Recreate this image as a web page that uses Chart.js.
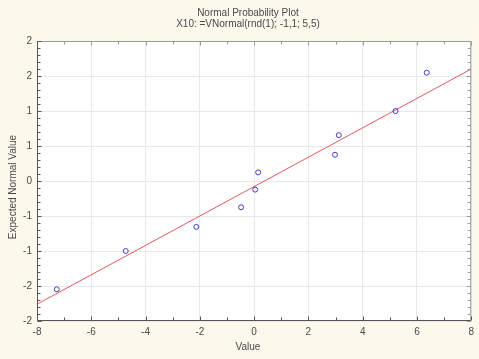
<!DOCTYPE html>
<html>
<head>
<meta charset="utf-8">
<script src="https://cdn.jsdelivr.net/npm/chart.js@4"></script>
<style>
  body { margin: 0; background: #fcf8ec; }
  #wrap { width: 479px; height: 359px; position: relative; }
</style>
</head>
<body>
<div id="wrap"><canvas id="npp"></canvas></div>
<script>
// observed values (x) and expected normal scores (y)
const values = [-7.27, -4.73, -2.13, -0.48, 0.04, 0.15, 2.98, 3.12, 5.21, 6.36];
const expected = [-1.547, -1.0, -0.655, -0.375, -0.123, 0.123, 0.375, 0.655, 1.0, 1.547];

// fitted line end points
const fitX = [-8, 8];
const fitY = [-1.76, 1.60];

const titleText = "Normal Probability Plot";
const subtitleText = "X10: =VNormal(rnd(1); -1,1; 5,5)";
const xTitle = "Value";
const yTitle = "Expected Normal Value";

const textColor = "#4a4a4a";
const font = "10px 'Liberation Sans', Arial, sans-serif";

// white plot area, frame, inward ticks and titles
const framePlugin = {
    id: "frame",
    beforeDraw(chart) {
        const { ctx, chartArea: a } = chart;
        ctx.save();
        ctx.fillStyle = "#ffffff";
        ctx.fillRect(a.left, a.top, a.right - a.left, a.bottom - a.top);
        ctx.restore();
    },
    afterDraw(chart) {
        const { ctx, chartArea: a, scales } = chart;
        const L = a.left + 0.5, R = a.right - 0.5, T = a.top + 0.5, B = a.bottom - 0.5;
        ctx.save();
        ctx.lineWidth = 1;

        // top and right edges lighter
        ctx.strokeStyle = "#9a9a9a";
        ctx.beginPath();
        ctx.moveTo(L, T); ctx.lineTo(R, T); ctx.lineTo(R, B);
        for (let v = -8; v <= 8; v += 1) {
            const px = Math.round(scales.x.getPixelForValue(v)) + 0.5;
            ctx.moveTo(px, T); ctx.lineTo(px, T + (v % 2 === 0 ? 4 : 3));
        }
        for (let i = -20; i <= 20; i++) {
            const py = Math.round(scales.y.getPixelForValue(i / 10)) + 0.5;
            ctx.moveTo(R, py); ctx.lineTo(R - (i % 5 === 0 ? 4 : 3), py);
        }
        ctx.stroke();

        // bottom and left axes darker
        ctx.strokeStyle = "#555555";
        ctx.beginPath();
        ctx.moveTo(L, T); ctx.lineTo(L, B); ctx.lineTo(R, B);
        for (let v = -8; v <= 8; v += 1) {
            const px = Math.round(scales.x.getPixelForValue(v)) + 0.5;
            ctx.moveTo(px, B); ctx.lineTo(px, B - (v % 2 === 0 ? 4 : 3));
        }
        for (let i = -20; i <= 20; i++) {
            const py = Math.round(scales.y.getPixelForValue(i / 10)) + 0.5;
            ctx.moveTo(L, py); ctx.lineTo(L + (i % 5 === 0 ? 4 : 3), py);
        }
        ctx.stroke();

        ctx.fillStyle = textColor;
        ctx.font = font;
        ctx.textAlign = "center";
        ctx.textBaseline = "middle";
        ctx.fillText(titleText, 248, 13);
        ctx.fillText(subtitleText, 248, 24);
        ctx.fillText(xTitle, 248, 347);
        ctx.translate(13, 187);
        ctx.rotate(-Math.PI / 2);
        ctx.fillText(yTitle, 0, 0);
        ctx.restore();
    }
};

new Chart(document.getElementById("npp"), {
    type: "scatter",
    data: {
        datasets: [{
            data: values.map((v, i) => ({ x: v, y: expected[i] })),
            pointStyle: "circle",
            pointRadius: 2.5,
            pointBorderWidth: 1,
            borderColor: "#4040c4",
            backgroundColor: "rgba(0,0,0,0)"
        }, {
            type: "line",
            data: fitX.map((v, i) => ({ x: v, y: fitY[i] })),
            borderColor: "#e05a60",
            borderWidth: 1,
            pointRadius: 0,
            fill: false
        }]
    },
    options: {
        responsive: true,
        maintainAspectRatio: false,
        animation: false,
        layout: { padding: { top: 41, right: 7, left: 0, bottom: 0 } },
        plugins: { legend: { display: false }, tooltip: { enabled: false } },
        scales: {
            x: {
                type: "linear",
                min: -8,
                max: 8,
                ticks: { stepSize: 2, padding: 5, color: textColor, font: { size: 10, family: "'Liberation Sans', Arial" } },
                grid: { color: "#e8e8e8", drawTicks: false },
                border: { display: false },
                afterFit(scale) { scale.height = 38; }
            },
            y: {
                min: -2,
                max: 2,
                ticks: {
                    stepSize: 0.5,
                    padding: 5,
                    color: textColor,
                    font: { size: 10, family: "'Liberation Sans', Arial" },
                    callback: v => String(Math.sign(v) * Math.round(Math.abs(v)))
                },
                grid: { color: "#e8e8e8", drawTicks: false },
                border: { display: false },
                afterFit(scale) { scale.width = 37; }
            }
        }
    },
    plugins: [framePlugin]
});
</script>
</body>
</html>
